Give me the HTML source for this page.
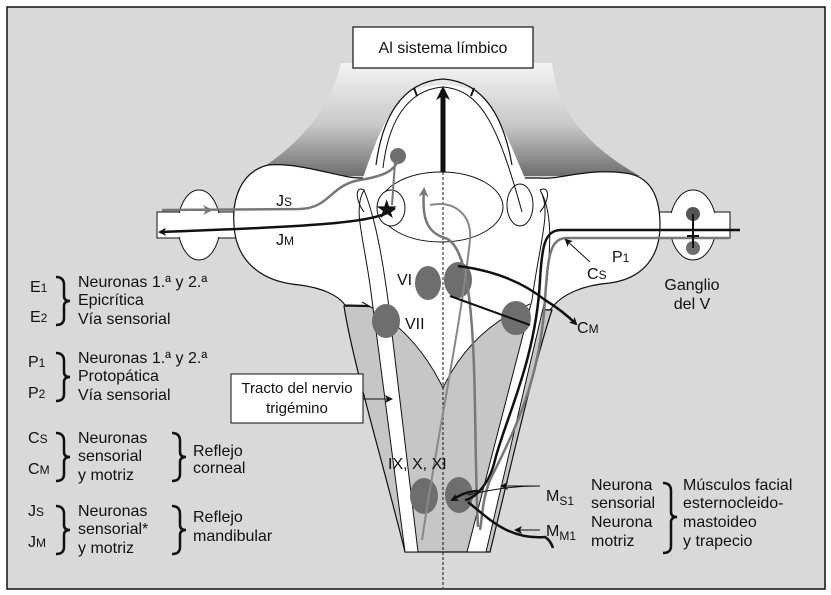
<!DOCTYPE html>
<html><head><meta charset="utf-8"><style>
html,body{margin:0;padding:0;background:#fff}
svg{display:block}
text{font-family:"Liberation Sans",sans-serif;fill:#111}
</style></head><body>
<svg width="831" height="595" viewBox="0 0 831 595" xmlns="http://www.w3.org/2000/svg">
<defs>
<linearGradient id="tg" x1="0" y1="0" x2="0" y2="1">
<stop offset="0" stop-color="#f4f4f4"/><stop offset="0.55" stop-color="#c8c8c8"/><stop offset="1" stop-color="#6e6e6e"/>
</linearGradient>
<marker id="ab" markerWidth="8" markerHeight="8" refX="6" refY="4" orient="auto" markerUnits="userSpaceOnUse"><path d="M0,0 L8,4 L0,8 L2,4Z" fill="#111"/></marker>
<marker id="ag" markerWidth="10" markerHeight="10" refX="7" refY="5" orient="auto" markerUnits="userSpaceOnUse"><path d="M0,0 L10,5 L0,10 L3,5Z" fill="#777"/></marker>
<marker id="abig" markerWidth="14" markerHeight="14" refX="10" refY="7" orient="auto" markerUnits="userSpaceOnUse"><path d="M0,0 L14,7 L0,14 L4,7Z" fill="#111"/></marker>
</defs>
<rect x="7" y="7" width="818" height="582" fill="#d9d9d9" stroke="#111" stroke-width="1.5"/>

<!-- top gray gradient -->
<path d="M341,63 L552,63 C558,110 585,145 640,176 L250,176 C300,145 330,110 341,63 Z" fill="url(#tg)"/>
<!-- nerve tubes -->
<rect x="157" y="212" width="80" height="26" fill="#fff" stroke="#111"/>
<rect x="655" y="212" width="75" height="26" fill="#fff" stroke="#111"/>
<ellipse cx="199" cy="225" rx="21" ry="35" fill="#fff" stroke="#111"/>
<ellipse cx="693" cy="225" rx="23" ry="35" fill="#fff" stroke="#111"/>
<rect x="158" y="213" width="78" height="24" fill="#fff"/>
<rect x="656" y="213" width="73" height="24" fill="#fff"/>
<!-- pons -->
<path d="M268,165 C240,172 232,200 234,225 C236,262 262,282 300,285 C322,288 338,295 345,305 L550,310 C562,293 585,285 610,283 C645,278 660,255 660,225 C660,195 650,176 625,173 C585,168 560,180 540,178 L360,178 C340,178 300,162 268,165 Z" fill="#fff" stroke="#111" stroke-width="1.2"/>
<!-- medulla -->
<path d="M344,306 C352,360 385,470 405,552 L490,552 C510,470 535,360 552,310 Z" fill="#c6c6c6" stroke="#111" stroke-width="1.2"/>
<path d="M362,302 Q415,330 443,388 Q470,330 530,304 Z" fill="#fff"/>
<path d="M362,302 Q415,330 443,388 Q470,330 530,304" fill="none" stroke="#111"/>
<!-- tongue -->
<path d="M355,200 C370,160 380,120 405,95 C420,82 465,82 480,95 C505,120 515,160 535,200 Z" fill="#fff"/>
<path d="M376,165 C382,120 400,82 443,79 C486,82 504,120 512,165" fill="none" stroke="#111" stroke-width="1.2"/>
<path d="M383,168 C388,125 405,90 443,87 C481,90 498,125 522,212" fill="none" stroke="#111"/>
<line x1="417" y1="96" x2="414" y2="88" stroke="#111" stroke-width="2"/>
<line x1="471" y1="96" x2="474" y2="88" stroke="#111" stroke-width="2"/>
<!-- white columns -->
<path d="M364,190 C352,210 365,240 372,300 L405,552 L418,552 L388,300 C380,240 372,210 364,190 Z" fill="#fff" stroke="#111"/>
<path d="M540,190 C552,210 540,240 532,300 L467,552 L486,552 L545,300 C552,240 552,210 540,190 Z" fill="#fff" stroke="#111"/>
<path d="M364,190 C355,185 355,200 364,212" fill="none" stroke="#111"/>
<path d="M540,190 C550,185 550,200 540,212" fill="none" stroke="#111"/>
<!-- pons ellipse and circles -->
<ellipse cx="441" cy="207" rx="62" ry="35" fill="none" stroke="#111"/>
<ellipse cx="391" cy="208" rx="14" ry="18" fill="#fff" stroke="#111"/>
<ellipse cx="520" cy="205" rx="13" ry="21" fill="none" stroke="#111"/>
<!-- dashed midline -->
<line x1="443" y1="172" x2="443" y2="588" stroke="#111" stroke-dasharray="3,2"/>
<!-- nuclei -->
<g fill="#6e6e6e">
<ellipse cx="428" cy="283" rx="13" ry="17"/><ellipse cx="458" cy="280" rx="14" ry="18"/>
<ellipse cx="386" cy="321" rx="14" ry="17"/><ellipse cx="516" cy="318" rx="15" ry="17"/>
<ellipse cx="424" cy="496" rx="14" ry="18"/><ellipse cx="459" cy="495" rx="14" ry="18"/>
<circle cx="398" cy="156" r="8"/>
<circle cx="693" cy="214" r="7" fill="#555"/><circle cx="693" cy="248" r="7"/>
</g>
<!-- big arrow up -->
<line x1="443" y1="172" x2="443" y2="90" stroke="#111" stroke-width="5" marker-end="url(#abig)"/>
<!-- Js gray -->
<path d="M162,210 L300,209 C330,208 330,185 360,180 C385,176 395,170 398,160" fill="none" stroke="#777" stroke-width="2.5"/>
<line x1="185" y1="210" x2="210" y2="210" stroke="#777" stroke-width="2" marker-end="url(#ag)"/>
<line x1="395" y1="162" x2="392" y2="205" stroke="#777" stroke-width="2"/>
<!-- JM black -->
<path d="M395,208 C380,222 330,226 160,232" fill="none" stroke="#111" stroke-width="2.5" marker-end="url(#ab)"/>
<text x="375" y="218" font-size="26" fill="#111">★</text>
<!-- gray central fiber -->
<path d="M478,527 C472,420 482,250 445,238 C425,232 422,215 424,190" fill="none" stroke="#777" stroke-width="2.5" marker-end="url(#ag)"/>
<path d="M422,540 C440,420 460,330 470,240 C472,215 455,200 430,205" fill="none" stroke="#888" stroke-width="2"/>
<!-- right fibers -->
<path d="M740,230 L560,230 C545,231 542,245 540,280 C536,360 505,420 495,460 C488,490 470,500 465,500" fill="none" stroke="#111" stroke-width="2.5"/>
<path d="M730,238 L565,238 C550,240 548,255 545,300 C540,380 515,430 490,480 C482,500 482,520 480,530" fill="none" stroke="#777" stroke-width="2.5"/>
<line x1="693" y1="214" x2="693" y2="248" stroke="#111" stroke-width="2"/>
<line x1="687" y1="236" x2="699" y2="236" stroke="#111" stroke-width="2"/>
<line x1="590" y1="262" x2="566" y2="240" stroke="#111" marker-end="url(#ab)"/>
<path d="M458,266 C490,270 520,280 545,300 C558,308 568,316 576,324" fill="none" stroke="#111" stroke-width="2.5" marker-end="url(#ab)"/>
<line x1="450" y1="296" x2="530" y2="325" stroke="#111" stroke-width="2"/>
<!-- bottom -->
<path d="M468,495 C490,490 510,486 540,486" fill="none" stroke="#111"/>
<line x1="540" y1="486" x2="502" y2="486" stroke="#111" marker-end="url(#ab)"/>
<path d="M478,491 C462,492 456,498 452,500" fill="none" stroke="#111" stroke-width="2.5" marker-end="url(#ab)"/>
<path d="M468,502 C490,520 510,540 545,537 C550,540 552,545 553,548" fill="none" stroke="#111" stroke-width="2.5"/>
<line x1="540" y1="530" x2="516" y2="530" stroke="#111" marker-end="url(#ab)"/>
<!-- top box -->
<rect x="353" y="27" width="180" height="41" fill="#fff" stroke="#111" stroke-width="1.2"/>
<text x="443" y="53" font-size="16" text-anchor="middle">Al sistema límbico</text>
<!-- tracto box -->
<rect x="231" y="374" width="132" height="49" fill="#fff" stroke="#111"/>
<text x="297" y="393" font-size="15" text-anchor="middle">Tracto del nervio</text>
<text x="297" y="413" font-size="15" text-anchor="middle">trigémino</text>
<line x1="363" y1="399" x2="391" y2="399" stroke="#111" marker-end="url(#ab)"/>
<!-- diagram labels -->
<g font-size="16">
<text x="276" y="206">J<tspan font-size="12">S</tspan></text>
<text x="276" y="245">J<tspan font-size="12">M</tspan></text>
<text x="397" y="285">VI</text>
<text x="405" y="329">VII</text>
<text x="388" y="469">IX, X, XI</text>
<text x="612" y="262">P<tspan font-size="12">1</tspan></text>
<text x="587" y="279">C<tspan font-size="12">S</tspan></text>
<text x="577" y="333">C<tspan font-size="12">M</tspan></text>
<text x="692" y="290" text-anchor="middle">Ganglio</text>
<text x="692" y="309" text-anchor="middle">del V</text>
<text x="546" y="501">M<tspan font-size="12" dy="4">S1</tspan></text>
<text x="546" y="536">M<tspan font-size="12" dy="4">M1</tspan></text>
<text x="591" y="490">Neurona</text><text x="591" y="508">sensorial</text>
<text x="591" y="527">Neurona</text><text x="591" y="546">motriz</text>
<text x="683" y="490">Músculos facial</text><text x="683" y="508">esternocleido-</text>
<text x="683" y="527">mastoideo</text><text x="683" y="546">y trapecio</text>
<!-- legend -->
<text x="30" y="292">E<tspan font-size="12">1</tspan></text><text x="30" y="322">E<tspan font-size="12">2</tspan></text>
<text x="78" y="287">Neuronas 1.ª y 2.ª</text><text x="78" y="305">Epicrítica</text><text x="78" y="324">Vía sensorial</text>
<text x="28" y="367">P<tspan font-size="12">1</tspan></text><text x="28" y="398">P<tspan font-size="12">2</tspan></text>
<text x="78" y="363">Neuronas 1.ª y 2.ª</text><text x="78" y="381">Protopática</text><text x="78" y="400">Vía sensorial</text>
<text x="28" y="443">C<tspan font-size="12">S</tspan></text><text x="28" y="474">C<tspan font-size="12">M</tspan></text>
<text x="78" y="443">Neuronas</text><text x="78" y="461">sensorial</text><text x="78" y="480">y motriz</text>
<text x="193" y="456">Reflejo</text><text x="193" y="473">corneal</text>
<text x="28" y="516">J<tspan font-size="12">S</tspan></text><text x="28" y="547">J<tspan font-size="12">M</tspan></text>
<text x="78" y="516">Neuronas</text><text x="78" y="534">sensorial*</text><text x="78" y="553">y motriz</text>
<text x="193" y="522">Reflejo</text><text x="193" y="541">mandibular</text>
</g>
<!-- braces -->
<g fill="none" stroke="#111" stroke-width="2.5">
<path d="M56,277 Q64,277 64,285 L64,296 Q64,301 70,301 Q64,301 64,306 L64,318 Q64,325 56,325"/>
<path d="M56,353 Q64,353 64,361 L64,372 Q64,377 70,377 Q64,377 64,382 L64,394 Q64,401 56,401"/>
<path d="M56,433 Q64,433 64,441 L64,452 Q64,457 70,457 Q64,457 64,462 L64,474 Q64,481 56,481"/>
<path d="M56,506 Q64,506 64,514 L64,525 Q64,530 70,530 Q64,530 64,535 L64,547 Q64,554 56,554"/>
<path d="M172,433 Q180,433 180,441 L180,452 Q180,457 186,457 Q180,457 180,462 L180,474 Q180,481 172,481"/>
<path d="M172,506 Q180,506 180,514 L180,525 Q180,530 186,530 Q180,530 180,535 L180,547 Q180,554 172,554"/>
<path d="M663,483 Q671,483 671,491 L671,512 Q671,517 677,517 Q671,517 671,522 L671,546 Q671,553 663,553"/>
</g>
</svg>
</body></html>
